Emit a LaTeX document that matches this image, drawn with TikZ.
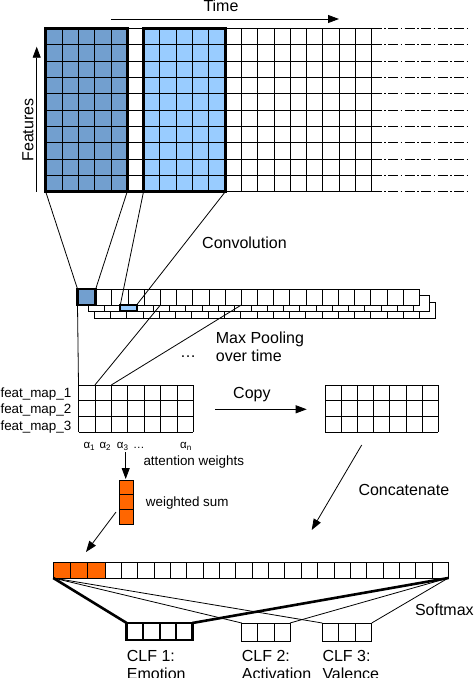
\documentclass[tikz,border=0pt]{standalone}
\usepackage{fontspec}
\setmainfont{Liberation Sans}
\usetikzlibrary{arrows.meta}
\definecolor{darkblk}{HTML}{729FCF}
\definecolor{lightblk}{HTML}{99CCFF}
\definecolor{orng}{HTML}{FF6600}
\begin{document}
\begin{tikzpicture}[x=1pt,y=-1pt,
  thin line/.style={line width=0.8pt},
  bold line/.style={line width=2.6pt},
  lbl/.style={inner sep=0pt,font=\fontsize{16}{18.5}\selectfont},
  smalllbl/.style={inner sep=0pt,font=\fontsize{13.4}{15}\selectfont},
  alphalbl/.style={inner sep=0pt,font=\fontsize{11.5}{13}\selectfont},
  arr/.style={line width=0.8pt,-{Triangle[length=11pt,width=8pt]}},
  dashdot/.style={line width=0.8pt,dash pattern=on 10pt off 2.5pt on 1.5pt off 2.5pt}
]
\useasboundingbox (0,0) rectangle (474,678);
% ---------- input grid (features x time)
\fill[darkblk] (45.7,28.3) rectangle (127.2,191.7);
\fill[lightblk] (143.5,28.3) rectangle (225.3,191.7);
\foreach \i in {0,...,20}
  \draw[thin line] (45.7+\i*16.3,28.3) -- (45.7+\i*16.3,191.7);
\foreach \j in {0,...,10} {
  \draw[thin line] (45.7,28.3+\j*16.34) -- (371.7,28.3+\j*16.34);
  \draw[dashdot] (371.7,28.3+\j*16.34) -- (468,28.3+\j*16.34);
}
\draw[bold line] (45.7,28.3) rectangle (127.2,191.7);
\draw[bold line] (143.5,28.3) rectangle (225.3,191.7);
\draw[bold line] (45.7,191.7) -- (225.3,191.7);
\coordinate (dkBL) at (45.7,191.7);
\coordinate (dkBR) at (127.2,191.7);
\coordinate (ltBL) at (143.5,191.7);
\coordinate (ltBR) at (225.3,191.7);
% axes
\node[lbl,anchor=base west] (time) at (203.3,11.7) {Time};
\coordinate (tA) at (111,19);
\coordinate (tB) at (339,19);
\draw[arr] (tA) -- (tB);
\node[lbl,rotate=90,anchor=base] (features) at (33.3,130) {Features};
\coordinate (fA) at (36.7,191.7);
\coordinate (fB) at (36.7,46.7);
\draw[arr] (fA) -- (fB);
% ---------- convolution feature maps (stacked rows)
\foreach \x/\y in {94.3/302.3, 88.3/295.3} {
  \fill[white] (\x,\y) rectangle (\x+341.5,\y+16);
  \draw[thin line] (\x,\y) rectangle (\x+341.5,\y+16);
  \foreach \i in {1,...,20}
    \draw[thin line] (\x+\i*16.262,\y) -- (\x+\i*16.262,\y+16);
}
\fill[white] (77.5,289) rectangle (419.3,305);
\draw[thin line] (77.5,289) rectangle (419.3,305);
\foreach \i in {0,...,20}
  \draw[thin line] (95.7+\i*16.18,289) -- (95.7+\i*16.18,305);
\fill[darkblk] (77.5,289) rectangle (95.7,305);
\draw[bold line] (77.5,289) rectangle (95.7,305);
\fill[lightblk] (120.3,305) rectangle (136.6,311.3);
\draw[line width=2pt] (120.3,305) rectangle (136.6,311.3);
\coordinate (dsqTL) at (77.5,289);
\coordinate (dsqTR) at (95.7,289);
\coordinate (dsqBL) at (77.5,305);
\coordinate (lsqTL) at (120.3,305);
\coordinate (lsqTR) at (136.6,305);
\coordinate (rowA) at (160.4,305);
\coordinate (rowB) at (241.3,305);
\draw[thin line] (dkBL) -- (dsqTL);
\draw[thin line] (dkBR) -- (dsqTR);
\draw[thin line] (ltBL) -- (lsqTL);
\draw[thin line] (ltBR) -- (lsqTR);
\node[lbl,anchor=base west] (conv) at (202,248.3) {Convolution};
% ---------- max pooled feature maps
\foreach \i in {0,...,7}
  \draw[thin line] (78.5+\i*16.4,385) -- (78.5+\i*16.4,432.3);
\foreach \j in {0,...,3}
  \draw[thin line] (78.5,385+\j*15.77) -- (193.3,385+\j*15.77);
\coordinate (pTL) at (78.5,385);
\coordinate (pA) at (94.9,385);
\coordinate (pB) at (111.3,385);
\draw[thin line] (dsqBL) -- (pTL);
\draw[thin line] (rowA) -- (pA);
\draw[thin line] (rowB) -- (pB);
\node[lbl,anchor=base west] (dots) at (180,357) {…};
\node[lbl,anchor=base west] (maxpool) at (215.7,343.3) {Max Pooling};
\node[lbl,anchor=base west] (overtime) at (215.7,361) {over time};
\node[smalllbl,anchor=base east] (fm1) at (71.5,397.5) {feat\_map\_1};
\node[smalllbl,anchor=base east] (fm2) at (71.5,413.7) {feat\_map\_2};
\node[smalllbl,anchor=base east] (fm3) at (71.5,430) {feat\_map\_3};
% copy
\foreach \i in {0,...,7}
  \draw[thin line] (325+\i*16.19,385) -- (325+\i*16.19,432.3);
\foreach \j in {0,...,3}
  \draw[thin line] (325,385+\j*15.77) -- (438.3,385+\j*15.77);
\node[lbl,anchor=base west] (copy) at (233,398.3) {Copy};
\coordinate (cA) at (215,409.3);
\coordinate (cB) at (306.7,409.3);
\draw[arr] (cA) -- (cB);
% ---------- attention
\node[alphalbl,anchor=base west] (a1) at (83.3,448.3) {α\textsubscript{1}};
\node[alphalbl,anchor=base west] (a2) at (99.3,448.3) {α\textsubscript{2}};
\node[alphalbl,anchor=base west] (a3) at (116.7,448.3) {α\textsubscript{3}};
\node[alphalbl,anchor=base west] (adots) at (133,448.3) {…};
\node[alphalbl,anchor=base west] (an) at (180,448.3) {α\textsubscript{n}};
\node[smalllbl,anchor=base west] (attw) at (143.3,465.7) {attention weights};
\coordinate (atA) at (125.7,452);
\coordinate (atB) at (125.7,479);
\draw[arr] (atA) -- (atB);
\fill[orng] (119.3,480) rectangle (133.8,524.3);
\draw[thin line] (119.3,480) rectangle (133.8,524.3);
\draw[thin line] (119.3,494.77) -- (133.8,494.77);
\draw[thin line] (119.3,509.53) -- (133.8,509.53);
\node[smalllbl,anchor=base west] (wsum) at (145.7,506) {weighted sum};
\coordinate (wA) at (116,512);
\coordinate (wB) at (86,552);
\draw[arr] (wA) -- (wB);
% concatenate
\coordinate (ccA) at (361.7,445);
\coordinate (ccB) at (311.7,530);
\draw[arr] (ccA) -- (ccB);
\node[lbl,anchor=base west] (concat) at (358.3,495) {Concatenate};
% ---------- concatenated vector
\fill[orng] (53.3,562) rectangle (105,578);
\draw[thin line] (53.3,562) rectangle (448.3,578);
\foreach \i in {1,2,3}
  \draw[thin line] (53.3+\i*17.23,562) -- (53.3+\i*17.23,578);
\foreach \i in {1,...,20}
  \draw[thin line] (105+\i*16.35,562) -- (105+\i*16.35,578);
\coordinate (L) at (53.3,578);
\coordinate (R) at (448.3,578);
% classifiers
\coordinate (c1TL) at (126.7,623);
\coordinate (c1TR) at (192.3,623);
\coordinate (c2TL) at (241.7,623);
\coordinate (c2TR) at (290,623);
\coordinate (c3TL) at (322.3,623);
\coordinate (c3TR) at (371.7,623);
\draw[thin line] (L) -- (c2TL);
\draw[thin line] (L) -- (c3TL);
\draw[thin line] (R) -- (c2TR);
\draw[thin line] (R) -- (c3TR);
\draw[bold line] (L) -- (c1TL);
\draw[bold line] (R) -- (c1TR);
\foreach \i in {1,2,3}
  \draw[line width=2pt] (126.7+\i*16.4,623) -- (126.7+\i*16.4,640);
\draw[bold line] (126.7,623) rectangle (192.3,640);
\draw[thin line] (241.7,623) rectangle (290,641);
\foreach \i in {1,2}
  \draw[thin line] (241.7+\i*16.1,623) -- (241.7+\i*16.1,641);
\draw[thin line] (322.3,623) rectangle (371.7,641);
\foreach \i in {1,2}
  \draw[thin line] (322.3+\i*16.47,623) -- (322.3+\i*16.47,641);
\node[lbl,anchor=base west] (softmax) at (414.8,615) {Softmax};
\node[lbl,anchor=north west,align=left] (clf1) at (126.7,650) {CLF 1:\\Emotion};
\node[lbl,anchor=north west,align=left] (clf2) at (241.7,650) {CLF 2:\\Activation};
\node[lbl,anchor=north west,align=left] (clf3) at (322.3,650) {CLF 3:\\Valence};
\end{tikzpicture}
\end{document}
